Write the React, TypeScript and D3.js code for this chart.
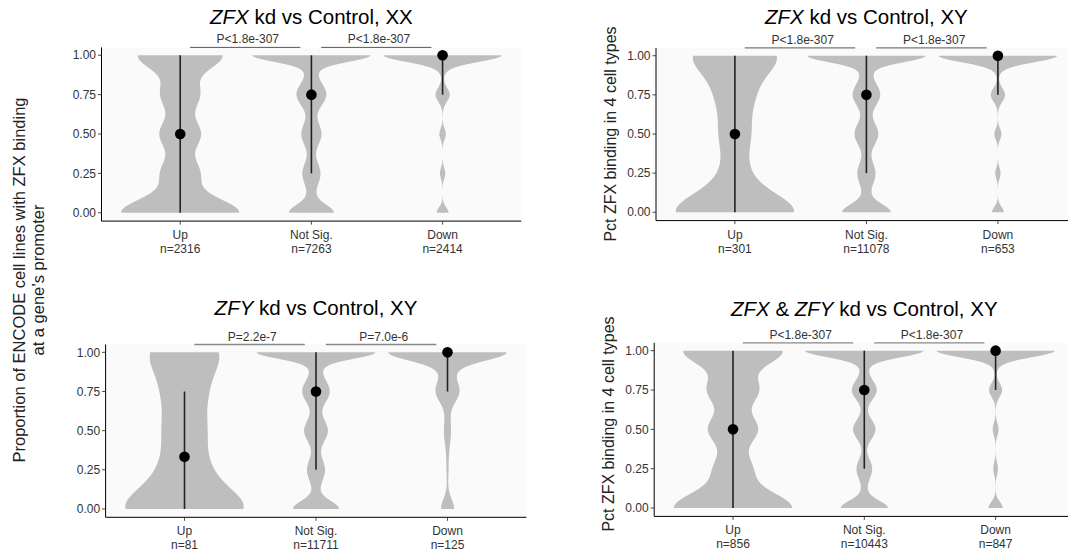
import React from "react";
import * as d3 from "d3";

// ---- shared axis content ----
const categories = ["Up", "Not Sig.", "Down"];
const yTicks = [0, 0.25, 0.5, 0.75, 1];
const yTickLabels = ["0.00", "0.25", "0.50", "0.75", "1.00"];

// Density components per violin: [level, weight, spread]
// ---- ZFX kd vs Control, XX ----
const xxZfxUp = [[0, 0.99, 0.09], [0.25, 0.32, 0.09], [0.5, 0.34, 0.09], [0.75, 0.32, 0.09], [1, 0.71, 0.09]];
const xxZfxNotSig = [[0, 0.3, 0.05], [0, 0.08, 0.1], [0.25, 0.15, 0.075], [0.5, 0.17, 0.075], [0.75, 0.25, 0.075], [1, 0.85, 0.04], [1, 0.15, 0.09]];
const xxZfxDown = [[0, 0.1, 0.035], [0.25, 0.045, 0.035], [0.5, 0.055, 0.035], [0.75, 0.12, 0.045], [1, 0.85, 0.04], [1, 0.15, 0.07]];
const xxZfxMedian = [0.5, 0.75, 1];
const xxZfxLow = [0, 0.25, 0.75];
const xxZfxHigh = [1, 1, 1];
const xxZfxN = ["n=2316", "n=7263", "n=2414"];
const xxZfxP = ["P<1.8e-307", "P<1.8e-307"];

// ---- ZFX kd vs Control, XY ----
const xyZfxUp = [[0, 0.97, 0.12], [0.25, 0.175, 0.12], [0.5, 0.227, 0.12], [0.75, 0.27, 0.12], [1, 0.67, 0.12]];
const xyZfxNotSig = [[0, 0.33, 0.05], [0, 0.08, 0.1], [0.25, 0.15, 0.075], [0.5, 0.2, 0.075], [0.75, 0.23, 0.075], [1, 0.85, 0.04], [1, 0.15, 0.09]];
const xyZfxDown = [[0, 0.1, 0.035], [0.25, 0.045, 0.035], [0.5, 0.06, 0.035], [0.75, 0.12, 0.045], [1, 0.85, 0.04], [1, 0.15, 0.065]];
const xyZfxMedian = [0.5, 0.75, 1];
const xyZfxLow = [0, 0.25, 0.75];
const xyZfxHigh = [1, 1, 1];
const xyZfxN = ["n=301", "n=11078", "n=653"];
const xyZfxP = ["P<1.8e-307", "P<1.8e-307"];

// ---- ZFY kd vs Control, XY ----
const xyZfyUp = [[0, 0.96, 0.13], [0.25, 0.32, 0.13], [0.5, 0.3, 0.13], [0.75, 0.3, 0.13], [1, 0.54, 0.13]];
const xyZfyNotSig = [[0, 0.33, 0.05], [0, 0.06, 0.1], [0.25, 0.15, 0.075], [0.5, 0.2, 0.075], [0.75, 0.23, 0.075], [1, 0.85, 0.04], [1, 0.15, 0.09]];
const xyZfyDown = [[0, 0.11, 0.065], [0.25, 0.015, 0.08], [0.5, 0.06, 0.1], [0.75, 0.19, 0.07], [1, 0.75, 0.05], [1, 0.25, 0.1]];
const xyZfyMedian = [0.333, 0.75, 1];
const xyZfyLow = [0, 0.25, 0.75];
const xyZfyHigh = [0.75, 1, 1];
const xyZfyN = ["n=81", "n=11711", "n=125"];
const xyZfyP = ["P=2.2e-7", "P=7.0e-6"];

// ---- ZFX & ZFY kd vs Control, XY ----
const xyBothUp = [[0, 0.99, 0.1], [0.25, 0.3, 0.09], [0.5, 0.41, 0.09], [0.75, 0.42, 0.09], [1, 0.83, 0.09]];
const xyBothNotSig = [[0, 0.33, 0.045], [0, 0.07, 0.1], [0.25, 0.13, 0.065], [0.5, 0.19, 0.065], [0.75, 0.21, 0.065], [1, 0.85, 0.04], [1, 0.15, 0.08]];
const xyBothDown = [[0, 0.12, 0.04], [0.25, 0.04, 0.04], [0.5, 0.05, 0.04], [0.75, 0.11, 0.045], [1, 0.85, 0.04], [1, 0.15, 0.065]];
const xyBothMedian = [0.5, 0.75, 1];
const xyBothLow = [0, 0.25, 0.75];
const xyBothHigh = [1, 1, 1];
const xyBothN = ["n=856", "n=10443", "n=847"];
const xyBothP = ["P<1.8e-307", "P<1.8e-307"];

type Seg = { t: string; i?: boolean };

const panels = [
  {
    title: [{ t: "ZFX", i: true }, { t: " kd vs Control, XX" }] as Seg[],
    violins: [xxZfxUp, xxZfxNotSig, xxZfxDown],
    median: xxZfxMedian, low: xxZfxLow, high: xxZfxHigh, n: xxZfxN, p: xxZfxP,
    box: { left: 101.5, right: 521.3, top: 47.4, bottom: 220.6, titleY: 23.5 },
    bracket: { color: "#444", width: 0.9 },
  },
  {
    title: [{ t: "ZFX", i: true }, { t: " kd vs Control, XY" }] as Seg[],
    violins: [xyZfxUp, xyZfxNotSig, xyZfxDown],
    median: xyZfxMedian, low: xyZfxLow, high: xyZfxHigh, n: xyZfxN, p: xyZfxP,
    box: { left: 656, right: 1076.8, top: 47.9, bottom: 220.1, titleY: 23.5 },
    bracket: { color: "#444", width: 0.9 },
  },
  {
    title: [{ t: "ZFY", i: true }, { t: " kd vs Control, XY" }] as Seg[],
    violins: [xyZfyUp, xyZfyNotSig, xyZfyDown],
    median: xyZfyMedian, low: xyZfyLow, high: xyZfyHigh, n: xyZfyN, p: xyZfyP,
    box: { left: 105.6, right: 526.4, top: 344.5, bottom: 516.8, titleY: 315 },
    bracket: { color: "#888", width: 1.4 },
  },
  {
    title: [{ t: "ZFX", i: true }, { t: " & " }, { t: "ZFY", i: true }, { t: " kd vs Control, XY" }] as Seg[],
    violins: [xyBothUp, xyBothNotSig, xyBothDown],
    median: xyBothMedian, low: xyBothLow, high: xyBothHigh, n: xyBothN, p: xyBothP,
    box: { left: 654.2, right: 1074.4, top: 342.8, bottom: 515.9, titleY: 315.5 },
    bracket: { color: "#888", width: 1.2 },
  },
];

const FONT = "'Liberation Sans', Arial, Helvetica, sans-serif";
const grid = d3.range(0, 1.0001, 0.0025);

function Panel({ spec }: { spec: (typeof panels)[number] }) {
  const { box } = spec;
  const x = d3.scalePoint<string>().domain(categories).range([box.left, box.right]).padding(0.6);
  const y = d3.scaleLinear().domain([-0.05, 1.05]).range([box.bottom, box.top]);
  const step = x.step();
  const half = step * 0.45;

  // violins scaled so every one reaches the same maximum width
  const violinPaths = spec.violins.map((comps, i) => {
    const cx = x(categories[i]) as number;
    const dens = grid.map((v) =>
      d3.sum(comps, ([c, w, s]) => w * Math.exp(-((v - c) ** 2) / (2 * s * s)))
    );
    const mx = d3.max(dens) as number;
    const area = d3
      .area<number>()
      .y((_, j) => y(grid[j]))
      .x0((d) => cx - (d / mx) * half)
      .x1((d) => cx + (d / mx) * half);
    return <path key={i} d={area(dens) as string} fill="#bebebe" />;
  });

  const midX = (box.left + box.right) / 2;

  return (
    <g>
      <rect x={box.left} y={box.top} width={box.right - box.left} height={box.bottom - box.top} fill="#fafafa" />
      {violinPaths}
      {categories.map((c, i) => (
        <g key={c}>
          <line x1={x(c)} x2={x(c)} y1={y(spec.low[i])} y2={y(spec.high[i])} stroke="#222" strokeWidth={1.6} />
          <circle cx={x(c)} cy={y(spec.median[i])} r={5.3} fill="#000" />
        </g>
      ))}
      {/* axes */}
      <line x1={box.left} x2={box.left} y1={box.top} y2={box.bottom + 0.5} stroke="#000" strokeWidth={1} />
      <line x1={box.left} x2={box.right} y1={box.bottom + 0.5} y2={box.bottom + 0.5} stroke="#000" strokeWidth={1} />
      {yTicks.map((t, i) => (
        <g key={t}>
          <line x1={box.left - 3.5} x2={box.left} y1={y(t)} y2={y(t)} stroke="#333" strokeWidth={0.9} />
          <text x={box.left - 5.5} y={y(t)} dy="0.35em" textAnchor="end" fontSize={12} fill="#333" fontFamily={FONT}>
            {yTickLabels[i]}
          </text>
        </g>
      ))}
      {categories.map((c, i) => (
        <g key={c}>
          <line x1={x(c)} x2={x(c)} y1={box.bottom + 0.5} y2={box.bottom + 4} stroke="#333" strokeWidth={0.9} />
          <text x={x(c)} y={box.bottom + 18.5} textAnchor="middle" fontSize={12} fill="#333" fontFamily={FONT}>
            {c}
          </text>
          <text x={x(c)} y={box.bottom + 32.5} textAnchor="middle" fontSize={12} fill="#333" fontFamily={FONT}>
            {spec.n[i]}
          </text>
        </g>
      ))}
      {/* comparison brackets */}
      {spec.p.map((label, i) => {
        const a = x(categories[i]) as number;
        const b = x(categories[i + 1]) as number;
        const yb = y(1.05);
        return (
          <g key={i}>
            <line x1={a + step * 0.075} x2={b - step * 0.085} y1={yb} y2={yb} stroke={spec.bracket.color} strokeWidth={spec.bracket.width} />
            <text x={(a + b) / 2 + 2} y={yb - 4} textAnchor="middle" fontSize={12} fill="#333" fontFamily={FONT}>
              {label}
            </text>
          </g>
        );
      })}
      <text x={midX} y={box.titleY} textAnchor="middle" fontSize={20.5} fill="#000" fontFamily={FONT}>
        {spec.title.map((s, k) => (
          <tspan key={k} fontStyle={s.i ? "italic" : "normal"}>
            {s.t}
          </tspan>
        ))}
      </text>
    </g>
  );
}

export default function App() {
  return (
    <svg width={1068} height={558} style={{ position: "absolute", left: 0, top: 0, background: "#fff" }}>
      <rect width={1068} height={558} fill="#fff" />
      {panels.map((p, i) => (
        <Panel key={i} spec={p} />
      ))}
      <text transform="translate(24.5,280) rotate(-90)" textAnchor="middle" fontSize={16.5} fill="#222" fontFamily={FONT}>
        Proportion of ENCODE cell lines with ZFX binding
      </text>
      <text transform="translate(43.5,280) rotate(-90)" textAnchor="middle" fontSize={16.5} fill="#222" fontFamily={FONT}>
        at a gene’s promoter
      </text>
      <text transform="translate(615.5,134) rotate(-90)" textAnchor="middle" fontSize={16} fill="#222" fontFamily={FONT}>
        Pct ZFX binding in 4 cell types
      </text>
      <text transform="translate(613.5,424) rotate(-90)" textAnchor="middle" fontSize={16} fill="#222" fontFamily={FONT}>
        Pct ZFX binding in 4 cell types
      </text>
    </svg>
  );
}
